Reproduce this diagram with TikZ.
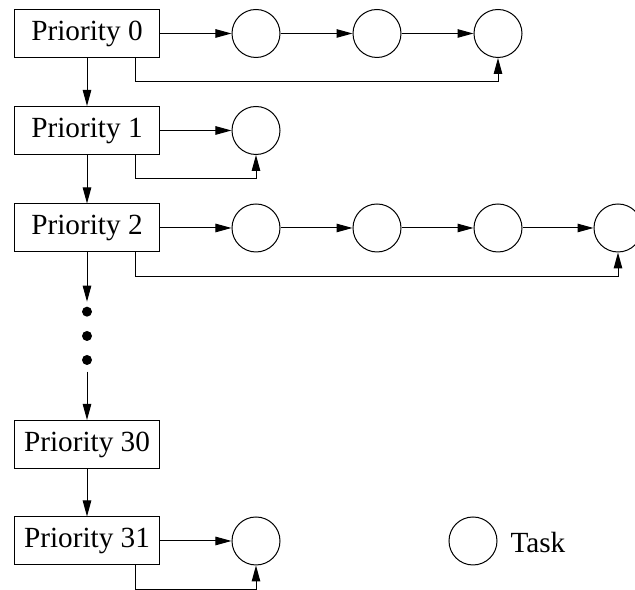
\documentclass[tikz,border=0pt]{standalone}
\usepackage{fontspec}
\setmainfont{Liberation Serif}
\usetikzlibrary{arrows.meta}

\begin{document}
\begin{tikzpicture}[
    x=0.4pt, y=0.4pt,
    line width=0.4pt,
    >={Triangle[length=6.4pt,width=3.4pt]},
    prio/.style={rectangle, draw=black, minimum width=57.6pt, minimum height=19.2pt, inner sep=0pt, font=\fontsize{11.7}{14}\selectfont},
    task/.style={circle, draw=black, minimum size=19.2pt, inner sep=0pt},
    dot/.style={circle, fill=black, minimum size=4pt, inner sep=0pt},
    label/.style={font=\fontsize{11.7}{14}\selectfont}
]
\useasboundingbox (0,0) rectangle (635,590);

% Priority levels
\node[prio] (prio0) at (87,556.5) {Priority 0};
\node[prio] (prio1) at (87,459.5) {Priority 1};
\node[prio] (prio2) at (87,362) {Priority 2};
\node[prio] (prio30) at (87,145.5) {Priority 30};
\node[prio] (prio31) at (87,49) {Priority 31};

% Dots between levels
\node[dot] (dot1) at (87,278.3) {};
\node[dot] (dot2) at (87,254) {};
\node[dot] (dot3) at (87,230) {};
\coordinate (dotstop) at (87,288.3);
\coordinate (dotsbot) at (87,218.3);

% Tasks of priority 0
\node[task] (task01) at (256,556.5) {};
\node[task] (task02) at (377,556.5) {};
\node[task] (task03) at (498,556.5) {};

% Tasks of priority 1
\node[task] (task11) at (256,459.5) {};

% Tasks of priority 2
\node[task] (task21) at (256,362) {};
\node[task] (task22) at (377,362) {};
\node[task] (task23) at (498,362) {};
\node[task] (task24) at (618,362) {};

% Tasks of priority 31
\node[task] (task311) at (256,49) {};

% Legend
\node[task] (legtask) at (473,49) {};
\node[label, anchor=base west, inner sep=0pt] (legtext) at (510,37) {Task};

% Level chain
\draw[->] (prio0.south) -- (prio1.north);
\draw[->] (prio1.south) -- (prio2.north);
\draw[->] (prio2.south) -- (dotstop);
\draw[->] (dotsbot) -- (prio30.north);
\draw[->] (prio30.south) -- (prio31.north);

% Task lists
\draw[->] (prio0.east) -- (task01.west);
\draw[->] (task01.east) -- (task02.west);
\draw[->] (task02.east) -- (task03.west);
\draw[->] ([xshift=-9.6pt]prio0.south east) -- ++(0,-24) -| (task03.south);

\draw[->] (prio1.east) -- (task11.west);
\draw[->] ([xshift=-9.6pt]prio1.south east) -- ++(0,-24) -| (task11.south);

\draw[->] (prio2.east) -- (task21.west);
\draw[->] (task21.east) -- (task22.west);
\draw[->] (task22.east) -- (task23.west);
\draw[->] (task23.east) -- (task24.west);
\draw[->] ([xshift=-9.6pt]prio2.south east) -- ++(0,-24) -| (task24.south);

\draw[->] (prio31.east) -- (task311.west);
\draw[->] ([xshift=-9.6pt]prio31.south east) -- ++(0,-24) -| (task311.south);

\end{tikzpicture}
\end{document}
